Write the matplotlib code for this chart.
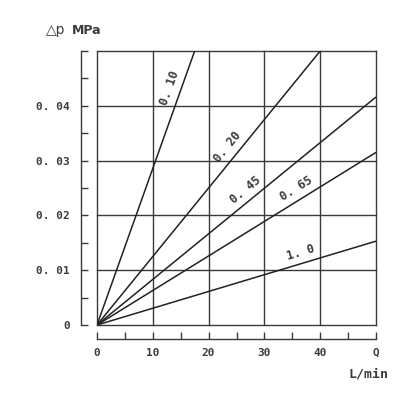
import numpy as np
import matplotlib
matplotlib.use("Agg")
import matplotlib.pyplot as plt
from matplotlib.ticker import MultipleLocator

# ---- data ----
series_labels = ["0. 10", "0. 20", "0. 45", "0. 65", "1. 0"]
q_end = [17.5, 40.0, 50.0, 50.0, 50.0]          # L/min at end of each line
dp_end = [0.050, 0.050, 0.0416, 0.0315, 0.0153]  # MPa at end of each line
label_q = [14.9, 25.0, 27.8, 36.8, 37.0]         # where labels sit along lines

x_ticks = [0, 10, 20, 30, 40, 50]
x_ticklabels = ["0", "10", "20", "30", "40", "Q"]
y_ticks = [0, 0.01, 0.02, 0.03, 0.04, 0.05]
y_ticklabels = ["0", "0. 01", "0. 02", "0. 03", "0. 04", ""]

plt.rcParams["font.family"] = ["DejaVu Sans Mono"]
plt.rcParams["font.weight"] = "bold"

W, H = 417, 395
fig = plt.figure(figsize=(W / 100, H / 100), dpi=100)
fig.patch.set_facecolor("white")
L, R, T, B = 97, 376, 51, 325
ax = fig.add_axes([L / W, (H - B) / H, (R - L) / W, (B - T) / H])

line_c = "#222222"
grid_c = "#3a3a3a"
txt_c = "#3c3c3c"
fs = 8.0
px = 72 / 100  # points per pixel

ax.set_xlim(0, 50)
ax.set_ylim(0, 0.05)

for q, d in zip(q_end, dp_end):
    ax.plot([0, q], [0, d], color=line_c, lw=1.1, solid_capstyle="butt")

# grid / box
for xv in x_ticks:
    ax.axvline(xv, color=grid_c, lw=1.0, clip_on=False, zorder=1)
for yv in y_ticks:
    ax.axhline(yv, color=grid_c, lw=1.0, clip_on=False, zorder=1)

for s in ["top", "right"]:
    ax.spines[s].set_visible(False)
ax.spines["left"].set_position(("outward", 16 * px))
ax.spines["bottom"].set_position(("outward", 14 * px))
for s in ["left", "bottom"]:
    ax.spines[s].set_color(grid_c)
    ax.spines[s].set_linewidth(1.0)

ax.set_xticks(x_ticks)
ax.set_xticklabels(x_ticklabels)
ax.set_yticks(y_ticks)
ax.set_yticklabels(y_ticklabels)
ax.xaxis.set_minor_locator(MultipleLocator(5))
ax.yaxis.set_minor_locator(MultipleLocator(0.005))
ax.tick_params(axis="both", which="both", direction="in", length=7 * px,
               width=1.0, color=grid_c, labelcolor=txt_c, labelsize=fs)
ax.tick_params(axis="x", which="major", pad=9 * px)
ax.tick_params(axis="y", which="major", pad=11 * px)

# line labels
fig.canvas.draw()
trans = ax.transData
for lab, q, qe, de in zip(series_labels, label_q, q_end, dp_end):
    slope = de / qe
    p0 = trans.transform((0, 0))
    p1 = trans.transform((qe, de))
    ang = np.arctan2(p1[1] - p0[1], p1[0] - p0[0])
    foot = trans.transform((q, slope * q))
    off = 11
    cx = foot[0] - off * np.sin(ang)
    cy = foot[1] + off * np.cos(ang)
    xd, yd = trans.inverted().transform((cx, cy))
    ax.text(xd, yd, lab, rotation=np.degrees(ang), rotation_mode="anchor",
            ha="center", va="center", fontsize=fs + 0.5, color=txt_c)

fig.text(46 / W, 1 - 30 / H, "△p", fontsize=10, color=txt_c,
         ha="left", va="center", family=["DejaVu Sans"], fontweight="normal")
fig.text(72 / W, 1 - 30 / H, "MPa", fontsize=9, color=txt_c,
         ha="left", va="center", family=["DejaVu Sans"])
fig.text(388 / W, 1 - 374 / H, "L/min", fontsize=9.5, color=txt_c,
         ha="right", va="center")

fig.savefig("out.png", dpi=100, facecolor="white")
